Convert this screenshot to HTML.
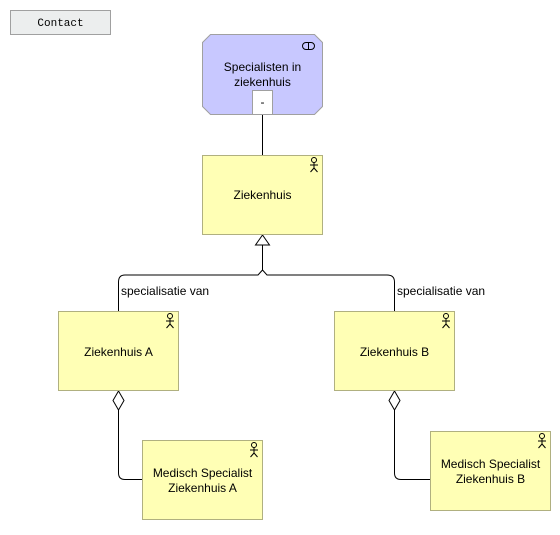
<!DOCTYPE html>
<html><head><meta charset="utf-8"><style>
body{margin:0;background:#fff;width:560px;height:530px;overflow:hidden}
svg text{font-family:"Liberation Sans","DejaVu Sans",sans-serif;font-size:12px;fill:#000}
</style></head><body>
<svg width="560" height="530" viewBox="0 0 560 530" xmlns="http://www.w3.org/2000/svg">
<defs>
<g id="actor" fill="none" stroke="#000" stroke-width="1">
<circle cx="0" cy="-4" r="2.5"/><line x1="0" y1="-1.5" x2="0" y2="4"/><line x1="-4" y1="1" x2="4" y2="1"/><line x1="0" y1="4" x2="-3.5" y2="8"/><line x1="0" y1="4" x2="3.5" y2="8"/>
</g>
</defs>
<rect x="10.5" y="10.5" width="100" height="24" fill="#eceeee" stroke="#a0a0a0"/>
<text x="60.5" y="26" text-anchor="middle" style="font-family:'Liberation Mono',monospace;font-size:11px">Contact</text>

<!-- connectors -->
<line x1="262.5" y1="114" x2="262.5" y2="155" stroke="#000"/>
<path d="M262.5 245 V270 L258 275 H125 Q118.5 275 118.5 282 V311" fill="none" stroke="#000"/>
<path d="M262.5 270 L267 275 H387 Q394.5 275 394.5 282 V311" fill="none" stroke="#000"/>
<polygon points="262.5,235 255.5,245 269.5,245" fill="#fff" stroke="#000"/>
<path d="M118.5 410 V473 Q118.5 479.5 125 479.5 H142" fill="none" stroke="#000"/>
<polygon points="118.5,391 124,400.5 118.5,410 113,400.5" fill="#fff" stroke="#000"/>
<path d="M394.5 410 V473 Q394.5 479.5 401 479.5 H430" fill="none" stroke="#000"/>
<polygon points="394.5,391 400,400.5 394.5,410 389,400.5" fill="#fff" stroke="#000"/>
<text x="121" y="295">specialisatie van</text>
<text x="397" y="295">specialisatie van</text>

<!-- service -->
<polygon points="210.5,34.5 314.5,34.5 322.5,42.5 322.5,106.5 314.5,114.5 210.5,114.5 202.5,106.5 202.5,42.5" fill="#c8c8ff" stroke="#a0a0a0"/>
<rect x="302.5" y="42.5" width="12" height="7" rx="3.5" fill="none" stroke="#000"/>
<line x1="308.5" y1="43" x2="308.5" y2="49" stroke="#000"/>
<text x="262.5" y="71" text-anchor="middle">Specialisten in</text>
<text x="262.5" y="86" text-anchor="middle">ziekenhuis</text>
<rect x="252.5" y="90.5" width="20" height="24" fill="#fff" stroke="#a0a0a0"/>
<text x="262.5" y="106" text-anchor="middle">-</text>

<!-- actors -->
<rect x="202.5" y="155.5" width="120" height="79" fill="#ffffb5" stroke="#b0b080"/>
<use href="#actor" x="314" y="164"/>
<text x="262.5" y="199" text-anchor="middle">Ziekenhuis</text>

<rect x="58.5" y="311.5" width="120" height="79" fill="#ffffb5" stroke="#b0b080"/>
<use href="#actor" x="170" y="320"/>
<text x="118.5" y="356" text-anchor="middle">Ziekenhuis A</text>

<rect x="334.5" y="311.5" width="120" height="79" fill="#ffffb5" stroke="#b0b080"/>
<use href="#actor" x="446" y="320"/>
<text x="394.5" y="356" text-anchor="middle">Ziekenhuis B</text>

<rect x="142.5" y="440.5" width="120" height="79" fill="#ffffb5" stroke="#b0b080"/>
<use href="#actor" x="254" y="449"/>
<text x="202.5" y="477" text-anchor="middle">Medisch Specialist</text>
<text x="202.5" y="492" text-anchor="middle">Ziekenhuis A</text>

<rect x="430.5" y="431.5" width="120" height="79" fill="#ffffb5" stroke="#b0b080"/>
<use href="#actor" x="542" y="440"/>
<text x="490.5" y="468" text-anchor="middle">Medisch Specialist</text>
<text x="490.5" y="483" text-anchor="middle">Ziekenhuis B</text>
</svg>
</body></html>
